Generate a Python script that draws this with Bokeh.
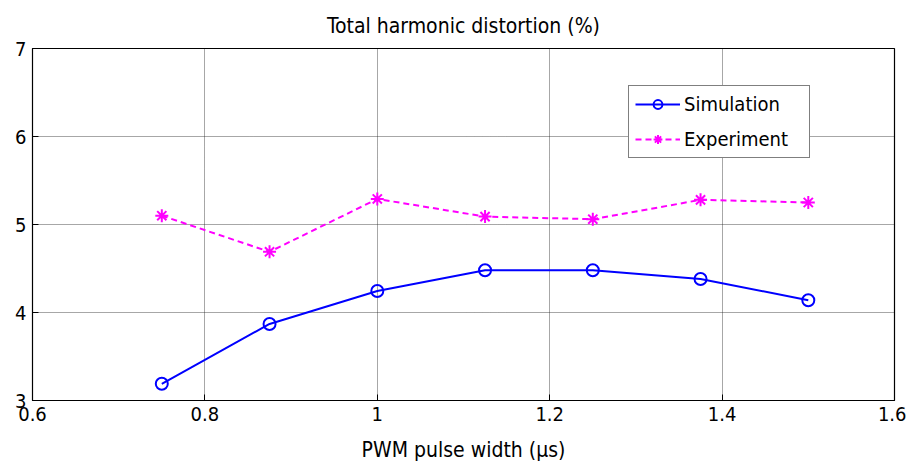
from bokeh.plotting import figure
from bokeh.models import Range1d, FixedTicker, Legend, LegendItem
from bokeh.embed import file_html
from bokeh.resources import INLINE

pulse_width = [0.75, 0.875, 1.0, 1.125, 1.25, 1.375, 1.5]
simulation = [3.19, 3.87, 4.245, 4.48, 4.48, 4.38, 4.14]
experiment = [5.10, 4.69, 5.29, 5.09, 5.06, 5.28, 5.25]
x_ticks = [0.6, 0.8, 1.0, 1.2, 1.4, 1.6]
y_ticks = [3, 4, 5, 6, 7]

FONT = "DejaVu Sans Condensed"

p = figure(width=906, height=464, output_backend="svg", toolbar_location=None,
           x_range=Range1d(0.6, 1.6), y_range=Range1d(3, 7),
           min_border_left=32, min_border_right=12, min_border_top=47, min_border_bottom=64)
p.background_fill_color = "white"
p.border_fill_color = "white"
p.outline_line_color = "black"
p.outline_line_width = 1.2

for ax in (p.xaxis[0], p.yaxis[0]):
    ax.major_tick_in = 6
    ax.major_tick_out = 0
    ax.minor_tick_line_color = None
    ax.axis_line_color = "black"
    ax.major_label_text_font = FONT
    ax.major_label_text_font_size = "20px"
    ax.major_label_text_color = "black"
    ax.axis_label_text_font = FONT
    ax.axis_label_text_font_size = "21px"
    ax.axis_label_text_font_style = "normal"
    ax.axis_label_text_color = "black"

p.xaxis.ticker = FixedTicker(ticks=x_ticks)
p.yaxis.ticker = FixedTicker(ticks=y_ticks)
p.xaxis.major_label_overrides = {0.6: "0.6", 0.8: "0.8", 1.0: "1", 1.2: "1.2", 1.4: "1.4", 1.6: "1.6"}
p.xaxis.axis_label = "PWM pulse width (μs)"
p.xaxis.axis_label_standoff = 14
p.xaxis.major_label_standoff = 6
p.yaxis.major_label_standoff = 6

p.xgrid.ticker = FixedTicker(ticks=x_ticks)
p.ygrid.ticker = FixedTicker(ticks=y_ticks)
for g in (p.xgrid[0], p.ygrid[0]):
    g.grid_line_color = "#222222"
    g.grid_line_dash = "1 1"
    g.grid_line_width = 0.8

p.title.text = "Total harmonic distortion (%)"
p.title.align = "center"
p.title.text_font = FONT
p.title.text_font_size = "21px"
p.title.text_font_style = "normal"
p.title.text_color = "black"
p.title.offset = 0
p.title.standoff = 22

sim_line = p.line(pulse_width, simulation, line_color="#0000ff", line_width=2)
sim_mark = p.scatter(pulse_width, simulation, marker="circle", size=12,
                     line_color="#0000ff", line_width=2, fill_color=None)
exp_line = p.line(pulse_width, experiment, line_color="#ff00ff", line_width=2, line_dash="6 4")
exp_mark = p.scatter(pulse_width, experiment, marker="asterisk", size=13,
                     line_color="#ff00ff", line_width=2)

legend = Legend(items=[LegendItem(label="Simulation", renderers=[sim_line, sim_mark]),
                       LegendItem(label="Experiment", renderers=[exp_line, exp_mark])],
                location=(596, 242))
legend.label_text_font = FONT
legend.label_text_font_size = "20px"
legend.label_text_color = "black"
legend.glyph_width = 45
legend.glyph_height = 22
legend.label_height = 22
legend.label_width = 119
legend.spacing = 11
legend.padding = 6
legend.margin = 0
legend.label_standoff = 4
legend.border_line_color = "black"
legend.border_line_width = 1.2
legend.background_fill_alpha = 1
p.add_layout(legend)

open("out.html", "w").write(file_html(p, INLINE))
